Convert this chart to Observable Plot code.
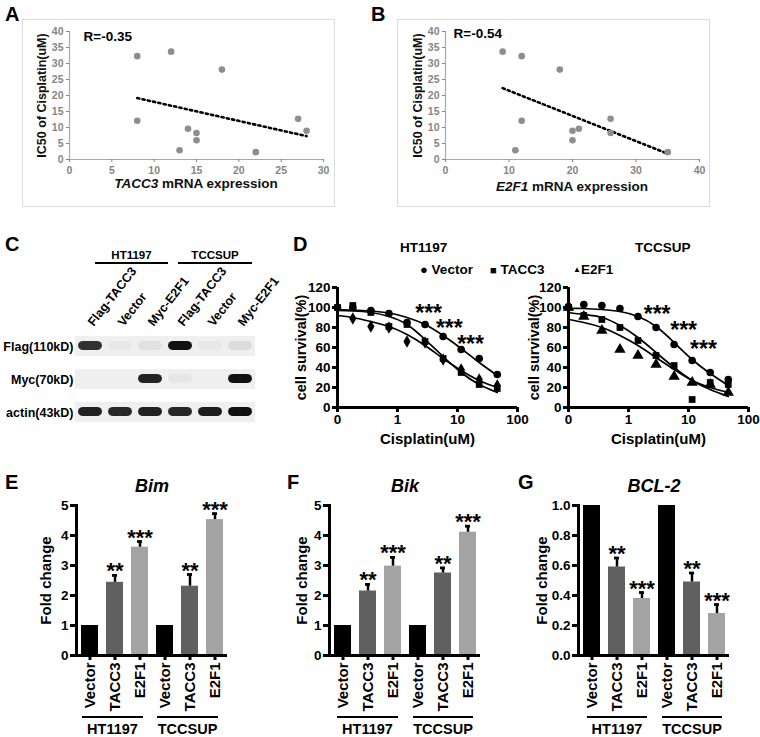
<!DOCTYPE html>
<html>
<head>
<meta charset="utf-8">
<script src="https://cdn.jsdelivr.net/npm/d3@7"></script>
<script src="https://cdn.jsdelivr.net/npm/@observablehq/plot@0.6"></script>
<style>
  body { margin: 0; background: #fff; }
  #fig { position: relative; width: 760px; height: 737px; overflow: hidden;
         font-family: "Liberation Sans", Arial, Helvetica, sans-serif; font-weight: bold; color: #000; }
  #fig .abs { position: absolute; white-space: nowrap; line-height: 1; }
  .grp { position: absolute; text-align: center; line-height: 1; }
</style>
</head>
<body>
<div id="fig"></div>
<script>
// ---------------- DATA ----------------
// Panel A: TACC3 mRNA expression vs IC50
const tacc3Expr = [8, 12, 18, 8, 14, 15, 15, 13, 22, 27, 28];
const tacc3IC50 = [32.3, 33.7, 28.1, 12.1, 9.6, 8.3, 6.0, 2.9, 2.3, 12.7, 9.0];
const tacc3TrendX = [8, 28];
const tacc3TrendY = [19.2, 7.3];
// Panel B: E2F1 mRNA expression vs IC50
const e2f1Expr = [9, 12, 18, 12, 11, 20, 21, 20, 26, 26, 35];
const e2f1IC50 = [33.7, 32.3, 28.1, 12.1, 2.9, 9.0, 9.6, 6.0, 12.7, 8.3, 2.3];
const e2f1TrendX = [9, 35];
const e2f1TrendY = [22.3, 1.8];
const icTicks = [0, 5, 10, 15, 20, 25, 30, 35, 40];
const tacc3Ticks = [0, 5, 10, 15, 20, 25, 30];
const e2f1Ticks = [0, 10, 20, 30, 40];

// Panel C: western blot (relative band intensity)
const laneLines = ["HT1197", "HT1197", "HT1197", "TCCSUP", "TCCSUP", "TCCSUP"];
const laneNames = ["Flag-TACC3", "Vector", "Myc-E2F1", "Flag-TACC3", "Vector", "Myc-E2F1"];
const blots = ["Flag(110kD)", "Myc(70kD)", "actin(43kD)"];
const flagBand = [0.85, 0.03, 0.06, 1.0, 0.03, 0.09];
const mycBand = [0.0, 0.0, 0.92, 0.04, 0.0, 1.0];
const actinBand = [0.93, 0.9, 0.93, 0.9, 0.95, 1.0];

// Panel D: dose response (cisplatin uM; 0 plotted at the log-axis origin)
const doseUM = [0, 0.18, 0.36, 0.72, 1.44, 2.88, 5.76, 11.5, 23, 46];
const doseTicks = [0.1, 1, 10, 100];
const survTicks = [0, 20, 40, 60, 80, 100, 120];
const htVector = [100, 100, 97, 94, 85, 83, 71, 58, 49, 33];
const htTACC3 = [100, 102, 95, 81, 83, 66, 49, 35, 23, 19];
const htE2F1 = [100, 89, 81, 80, 66, 65, 48, 38, 28, 22];
const htVectorFit = [98, 97.5, 96.5, 94.5, 90, 83, 72, 59, 45, 32];
const htTACC3Fit = [97, 96.5, 95, 91, 83, 68, 51, 35, 23, 15];
const htE2F1Fit = [92, 90, 86, 81, 73, 62, 49, 37, 27, 20];
const tcVector = [101, 103, 102, 99, 91, 80, 63, 47, 35, 28];
const tcTACC3 = [100, 92, 88, 80, 67, 52, 42, 8, 25, 23];
const tcE2F1 = [100, 91, 77, 58, 52, 43, 31, 25, 23, 15];
const tcVectorFit = [99, 99, 98, 96, 91, 81, 65, 48, 34, 22];
const tcTACC3Fit = [95, 93, 90, 82, 70, 55, 40, 27, 18, 11];
const tcE2F1Fit = [88, 85, 80, 72, 62, 50, 38, 27, 20, 15];
const htStarDose = [3.3, 7.3, 16.5];
const htStarSurv = [100, 85, 69];
const tcStarDose = [3.0, 8.3, 17.8];
const tcStarSurv = [99, 83, 64];

// Panels E-G: qPCR fold change
const cellLines = ["HT1197", "TCCSUP"];
const conditions = ["Vector", "TACC3", "E2F1"];
const bimMean = [1, 2.44, 3.61, 1, 2.31, 4.53];
const bimErr = [0, 0.23, 0.19, 0, 0.39, 0.2];
const bikMean = [1, 2.15, 2.98, 1, 2.75, 4.11];
const bikErr = [0, 0.22, 0.29, 0, 0.17, 0.2];
const bcl2Mean = [1, 0.59, 0.38, 1, 0.49, 0.28];
const bcl2Err = [0, 0.06, 0.04, 0, 0.06, 0.06];
const sigMarks = ["", "**", "***", "", "**", "***"];

// ---------------- HELPERS ----------------
const FONT = '"Liberation Sans", Arial, Helvetica, sans-serif';
const fig = document.getElementById("fig");
const baseStyle = { fontFamily: FONT, fontWeight: "bold", background: "transparent", color: "#000", overflow: "visible" };
function put(node, left, top) {
  node.style.position = "absolute";
  node.style.left = left + "px";
  node.style.top = top + "px";
  fig.appendChild(node);
  return node;
}
function html(content, left, top, css) {
  const d = document.createElement("div");
  d.className = "abs";
  d.innerHTML = content;
  Object.assign(d.style, { left: left + "px", top: top + "px" }, css || {});
  fig.appendChild(d);
  return d;
}
function groupHeader(text, x1, x2, lineY, textY, fontSize) {
  const line = document.createElement("div");
  Object.assign(line.style, { position: "absolute", left: x1 + "px", top: lineY + "px", width: (x2 - x1) + "px", height: "0px", borderTop: "2.6px solid #000" });
  fig.appendChild(line);
  const t = document.createElement("div");
  t.className = "grp";
  t.textContent = text;
  Object.assign(t.style, { left: ((x1 + x2) / 2 - 50) + "px", width: "100px", top: textY + "px", fontSize: fontSize + "px" });
  fig.appendChild(t);
}

// ---------------- PANELS A, B ----------------
function scatter(xs, ys, txs, tys, xMax, xTicks, rLabel, gene, left, mLeft, rdx, rdy, labY) {
  const pts = xs.map((x, i) => ({ x, y: ys[i] }));
  const trend = txs.map((x, i) => ({ x, y: tys[i] }));
  const W = 311, H = 186;
  const p = Plot.plot({
    width: W, height: H,
    marginLeft: mLeft, marginRight: W - mLeft - 254, marginTop: 11, marginBottom: H - 139,
    x: { domain: [0, xMax] },
    y: { domain: [0, 40] },
    style: { ...baseStyle, border: "1px solid #dcdcdc" },
    marks: [
      Plot.ruleY([0], { stroke: "#a8a8a8", strokeWidth: 1.2 }),
      Plot.ruleX([0], { stroke: "#a8a8a8", strokeWidth: 1.2 }),
      Plot.axisX({ ticks: xTicks, tickSize: 3, tickPadding: 4, color: "#858585", fontSize: 10.5, label: null }),
      Plot.axisY({ ticks: icTicks, tickSize: 3, tickPadding: 3, color: "#858585", fontSize: 10.5, label: null }),
      Plot.axisY({ ticks: [], tickSize: 0, label: "IC50 of Cisplatin(uM)", labelArrow: "none", labelAnchor: "center", labelOffset: 32, fontSize: 12.5, color: "#111" }),
      Plot.line(trend, { x: "x", y: "y", stroke: "#000", strokeWidth: 2.6, strokeDasharray: "2.2 3.2" }),
      Plot.dot(pts, { x: "x", y: "y", r: 3.3, fill: "#8e8e8e" }),
      Plot.text([rLabel], { frameAnchor: "top-left", lineAnchor: "middle", dx: rdx, dy: rdy, fontSize: 13.5, textAnchor: "start" })
    ]
  });
  put(p, left, 19);
  const sx = p.scale("x");
  const cx = (sx.range[0] + sx.range[1]) / 2;
  const t = d3.select(p).append("text")
    .attr("x", cx).attr("y", labY).attr("text-anchor", "middle")
    .attr("font-size", 13.5).attr("fill", "#111");
  t.append("tspan").attr("font-style", "italic").text(gene);
  t.append("tspan").text(" mRNA expression");
}
scatter(tacc3Expr, tacc3IC50, tacc3TrendX, tacc3TrendY, 30, tacc3Ticks, "R=-0.35", "TACC3", 22, 46, 14, 5, 168);
scatter(e2f1Expr, e2f1IC50, e2f1TrendX, e2f1TrendY, 40, e2f1Ticks, "R=-0.54", "E2F1", 397, 47, 8, 2, 171);

// ---------------- PANEL C ----------------
(function () {
  const laneIds = laneNames.map((n, i) => laneLines[i] + "|" + n);
  const levels = [flagBand, mycBand, actinBand];
  const cells = [];
  blots.forEach((b, bi) => laneIds.forEach((l, li) => cells.push({ blot: b, lane: l, v: levels[bi][li] })));
  const p = Plot.plot({
    width: 262, height: 215, marginLeft: 75, marginRight: 7, marginTop: 103, marginBottom: 10,
    x: { type: "band", domain: laneIds, padding: 0 },
    y: { type: "band", domain: blots, paddingInner: 0.4, paddingOuter: 0.24 },
    style: baseStyle,
    marks: [
      Plot.cell(cells, { x: "lane", y: "blot", fill: "#efefef" }),
      Plot.cell(cells, { x: "lane", y: "blot", fill: "#111", fillOpacity: "v", insetLeft: 3, insetRight: 3, insetTop: 5, insetBottom: 6, rx: 5 }),
      Plot.axisX({ anchor: "top", tickSize: 0, tickPadding: 4, tickRotate: -52, tickFormat: (d) => d.split("|")[1], fontSize: 12.5, label: null }),
      Plot.axisY({ tickSize: 0, tickPadding: 2, fontSize: 12.5, label: null })
    ]
  });
  put(p, 0, 225);
  groupHeader("HT1197", 95, 168, 262, 250, 11.5);
  groupHeader("TCCSUP", 178, 252, 262, 250, 11.5);
})();

// ---------------- PANEL D ----------------
function dosePanel(left, width, mLeft, series, fits, starDose, starSurv, lastSymbol, yLabOff) {
  const names = ["Vector", "TACC3", "E2F1"];
  const symbols = ["circle", "square", lastSymbol];
  const pos = (d) => Math.max(d, 0.1);
  const fitRows = [];
  fits.forEach((f, k) => doseUM.forEach((d, i) => fitRows.push({ dose: pos(d), surv: f[i], s: names[k] })));
  const dots = series.map((vals, k) =>
    Plot.dot(doseUM.map((d, i) => ({ dose: pos(d), surv: vals[i] })), { x: "dose", y: "surv", symbol: symbols[k], r: symbols[k] === "triangle" ? 4.2 : 3.8, fill: "#000", stroke: "none" }));
  const stars = starDose.map((d, i) => ({ dose: d, surv: starSurv[i] }));
  const p = Plot.plot({
    width, height: 165, marginLeft: mLeft, marginRight: width - mLeft - 180, marginTop: 12, marginBottom: 33,
    x: { type: "log", domain: [0.1, 100] },
    y: { domain: [0, 120] },
    style: baseStyle,
    marks: [
      Plot.line(fitRows, { x: "dose", y: "surv", z: "s", curve: "natural", stroke: "#000", strokeWidth: 1.7 }),
      ...dots,
      Plot.text(stars, { x: "dose", y: "surv", text: () => "***", fontSize: 23, dy: 6 }),
      Plot.ruleY([0], { strokeWidth: 3 }),
      Plot.ruleX([0.1], { strokeWidth: 3 }),
      Plot.axisX({ ticks: doseTicks, tickFormat: (d) => (d === 0.1 ? "0" : String(d)), tickSize: 5, strokeWidth: 3, tickPadding: 2, fontSize: 13.5, label: null }),
      Plot.axisX({ ticks: [], tickSize: 0, label: "Cisplatin(uM)", labelArrow: "none", labelAnchor: "center", labelOffset: 36, fontSize: 15 }),
      Plot.axisY({ ticks: survTicks, tickSize: 5, strokeWidth: 3, tickPadding: 2, fontSize: 13.5, label: null }),
      Plot.axisY({ ticks: [], tickSize: 0, label: "cell survival(%)", labelArrow: "none", labelAnchor: "center", labelOffset: yLabOff, fontSize: 14.5 })
    ]
  });
  put(p, left, 275);
}
dosePanel(285, 245, 52, [htVector, htTACC3, htE2F1], [htVectorFit, htTACC3Fit, htE2F1Fit], htStarDose, htStarSurv, "diamond", 42);
dosePanel(520, 240, 48, [tcVector, tcTACC3, tcE2F1], [tcVectorFit, tcTACC3Fit, tcE2F1Fit], tcStarDose, tcStarSurv, "triangle", 40);
html("HT1197", 400, 241, { fontSize: "13.5px" });
html("TCCSUP", 635, 241, { fontSize: "13.5px" });
html('<span style="font-size:13px">&#9679;</span> Vector', 420, 263, { fontSize: "13.5px" });
html('<span style="font-size:11px">&#9632;</span> TACC3', 490, 263, { fontSize: "13.5px" });
html('<span style="font-size:8px;vertical-align:2px">&#9650;</span>E2F1', 573, 263, { fontSize: "13.5px" });

// ---------------- PANELS E, F, G ----------------
function barPanel(left, width, mLeft, mean, err, yDomain, yTicks, fmt, title, yLabOff) {
  const ids = [];
  cellLines.forEach((l) => conditions.forEach((c) => ids.push(l + "|" + c)));
  const rows = ids.map((id, i) => ({ id, cond: id.split("|")[1], mean: mean[i], err: err[i], top: mean[i] + err[i], star: sigMarks[i] }));
  const withErr = rows.filter((d) => d.err > 0);
  const p = Plot.plot({
    width, height: 257, marginLeft: mLeft, marginRight: width - mLeft - 151, marginTop: 25, marginBottom: 82,
    x: { type: "band", domain: ids, paddingInner: 0.32, paddingOuter: 0.18 },
    y: { domain: yDomain },
    color: { domain: conditions, range: ["#000000", "#606060", "#a3a3a3"] },
    style: baseStyle,
    marks: [
      Plot.barY(rows, { x: "id", y: "mean", fill: "cond" }),
      Plot.ruleX(withErr, { x: "id", y1: "mean", y2: "top", strokeWidth: 2.5 }),
      Plot.tickY(withErr, { x: "id", y: "top", strokeWidth: 2.8, insetLeft: 6, insetRight: 6 }),
      Plot.text(rows, { x: "id", y: "top", text: "star", dy: -4, fontSize: 22 }),
      Plot.text([title], { frameAnchor: "top", lineAnchor: "middle", dy: -19, fontSize: 18, fontStyle: "italic" }),
      Plot.ruleY([yDomain[0]], { strokeWidth: 3 }),
      Plot.frame({ anchor: "left", strokeWidth: 3 }),
      Plot.axisY({ ticks: yTicks, tickFormat: fmt, tickSize: 6, tickPadding: 2, strokeWidth: 3, fontSize: 13.5, label: null }),
      Plot.axisY({ ticks: [], tickSize: 0, label: "Fold change", labelArrow: "none", labelAnchor: "center", labelOffset: yLabOff, fontSize: 15 }),
      Plot.axisX({ tickSize: 5, strokeWidth: 3, tickPadding: 2, tickRotate: -90, tickFormat: (d) => d.split("|")[1], fontSize: 15, label: null })
    ]
  });
  put(p, left, 480);
  return p;
}
const intFmt = (d) => String(d);
const decFmt = (d) => d.toFixed(1);
barPanel(0, 240, 76, bimMean, bimErr, [0, 5], [0, 1, 2, 3, 4, 5], intFmt, "Bim", 36);
barPanel(250, 245, 79, bikMean, bikErr, [0, 5], [0, 1, 2, 3, 4, 5], intFmt, "Bik", 33);
barPanel(500, 260, 78, bcl2Mean, bcl2Err, [0, 1], [0, 0.2, 0.4, 0.6, 0.8, 1.0], decFmt, "BCL-2", 42);
groupHeader("HT1197", 82, 143, 716, 722, 14.5);
groupHeader("TCCSUP", 157, 218, 716, 722, 14.5);
groupHeader("HT1197", 337, 398, 716, 722, 14.5);
groupHeader("TCCSUP", 413, 473, 716, 722, 14.5);
groupHeader("HT1197", 587, 647, 716, 722, 14.5);
groupHeader("TCCSUP", 662, 722, 716, 722, 14.5);

// ---------------- PANEL LETTERS ----------------
[["A", 5, 4], ["B", 371, 4], ["C", 5, 234], ["D", 293, 234], ["E", 5, 472], ["F", 287, 472], ["G", 518, 472]]
  .forEach(([l, x, y]) => html(l, x, y, { fontSize: "20px" }));
</script>
</body>
</html>
